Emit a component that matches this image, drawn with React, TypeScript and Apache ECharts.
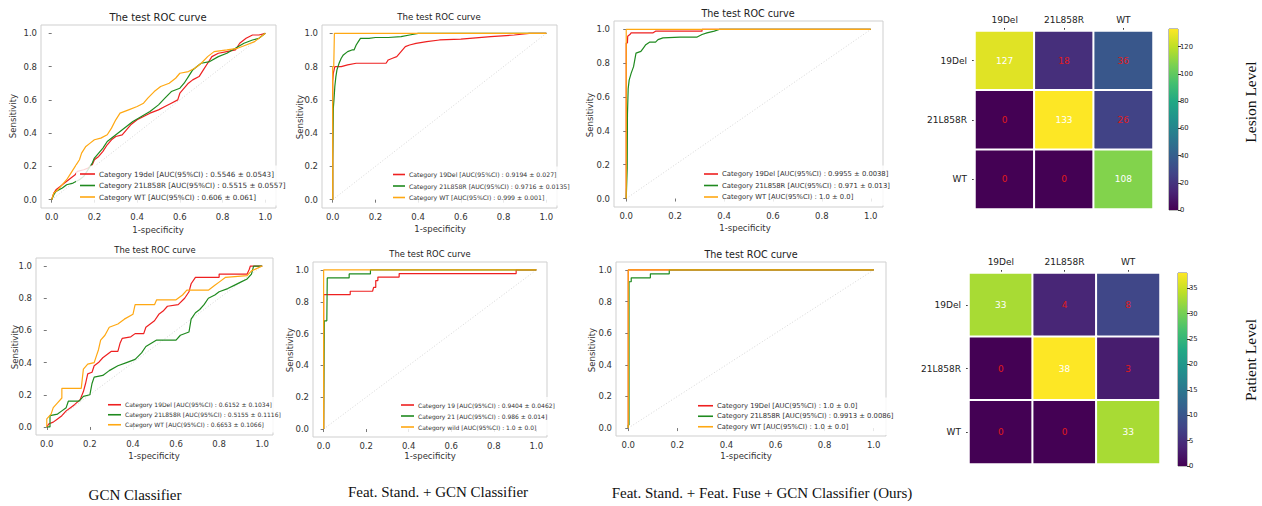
import React, { useEffect, useRef } from "react";
import * as echarts from "echarts";

// ---------- data ----------
const rocTicks = [0, 0.2, 0.4, 0.6, 0.8, 1.0];
const diagonal = [[0, 0], [1, 1]];
const rocTitle = "The test ROC curve";
const xName = "1-specificity";
const yName = "Sensitivity";

// Panel 1 (GCN Classifier, lesion level)
const p1Names = [
  "Category 19del [AUC(95%CI) : 0.5546 ± 0.0543]",
  "Category 21L858R [AUC(95%CI) : 0.5515 ± 0.0557]",
  "Category WT [AUC(95%CI) : 0.606 ± 0.061]",
];
const p1Red = [[0,0],[0.01,0.04],[0.02,0.06],[0.04,0.08],[0.06,0.1],[0.09,0.13],[0.11,0.15],[0.12,0.17],[0.15,0.18],[0.17,0.19],[0.19,0.21],[0.2,0.24],[0.22,0.26],[0.24,0.29],[0.26,0.33],[0.28,0.36],[0.3,0.38],[0.33,0.39],[0.35,0.42],[0.37,0.45],[0.4,0.48],[0.43,0.5],[0.46,0.52],[0.5,0.54],[0.53,0.56],[0.56,0.58],[0.59,0.6],[0.6,0.64],[0.62,0.67],[0.64,0.7],[0.66,0.72],[0.69,0.74],[0.71,0.78],[0.73,0.82],[0.75,0.86],[0.78,0.88],[0.82,0.89],[0.86,0.9],[0.88,0.94],[0.91,0.97],[0.94,0.99],[0.97,0.99],[1,1]];
const p1Green = [[0,0],[0.01,0.03],[0.02,0.05],[0.05,0.07],[0.07,0.09],[0.1,0.1],[0.13,0.12],[0.15,0.14],[0.17,0.18],[0.19,0.22],[0.2,0.25],[0.22,0.28],[0.24,0.31],[0.26,0.35],[0.29,0.38],[0.32,0.41],[0.35,0.44],[0.38,0.47],[0.42,0.5],[0.46,0.53],[0.5,0.57],[0.53,0.61],[0.56,0.65],[0.6,0.67],[0.62,0.7],[0.64,0.74],[0.66,0.78],[0.68,0.8],[0.7,0.82],[0.74,0.83],[0.78,0.86],[0.82,0.88],[0.86,0.91],[0.9,0.94],[0.94,0.96],[0.97,0.97],[1,1]];
const p1Orange = [[0,0],[0.01,0.04],[0.03,0.06],[0.05,0.09],[0.07,0.12],[0.09,0.16],[0.11,0.2],[0.13,0.24],[0.14,0.28],[0.16,0.32],[0.18,0.34],[0.2,0.36],[0.23,0.37],[0.26,0.39],[0.28,0.43],[0.3,0.48],[0.32,0.52],[0.36,0.54],[0.4,0.56],[0.43,0.58],[0.45,0.61],[0.48,0.65],[0.51,0.68],[0.55,0.7],[0.58,0.73],[0.6,0.76],[0.64,0.77],[0.67,0.79],[0.7,0.82],[0.73,0.86],[0.76,0.89],[0.82,0.9],[0.87,0.91],[0.91,0.93],[0.95,0.95],[1,1]];

// Panel 2 (Feat. Stand. + GCN, lesion level)
const p2Names = [
  "Category 19Del [AUC(95%CI) : 0.9194 ± 0.027]",
  "Category 21L858R [AUC(95%CI) : 0.9716 ± 0.0135]",
  "Category WT [AUC(95%CI) : 0.999 ± 0.001]",
];
const p2Red = [[0,0],[0,0.71],[0.003,0.76],[0.01,0.8],[0.04,0.8],[0.07,0.81],[0.11,0.82],[0.2,0.82],[0.25,0.82],[0.26,0.84],[0.28,0.85],[0.3,0.86],[0.32,0.89],[0.34,0.92],[0.36,0.93],[0.39,0.94],[0.44,0.95],[0.5,0.96],[0.6,0.965],[0.74,0.98],[0.85,0.99],[0.92,1],[1,1]];
const p2Green = [[0,0],[0,0.23],[0.003,0.55],[0.006,0.6],[0.01,0.68],[0.015,0.74],[0.02,0.78],[0.03,0.82],[0.04,0.85],[0.05,0.87],[0.07,0.89],[0.09,0.9],[0.1,0.9],[0.11,0.93],[0.12,0.95],[0.13,0.97],[0.17,0.97],[0.2,0.975],[0.26,0.975],[0.32,0.98],[0.36,0.99],[0.4,1],[1,1]];
const p2Orange = [[0,0],[0,0.8],[0.005,0.8],[0.008,1],[1,1]];

// Panel 3 (Ours, lesion level)
const p3Names = [
  "Category 19Del [AUC(95%CI) : 0.9955 ± 0.0038]",
  "Category 21L858R [AUC(95%CI) : 0.971 ± 0.013]",
  "Category WT [AUC(95%CI) : 1.0 ± 0.0]",
];
const p3Red = [[0,0],[0,0.92],[0.005,0.92],[0.006,0.96],[0.015,0.97],[0.02,0.98],[0.11,0.98],[0.12,0.99],[0.31,0.99],[0.31,1],[1,1]];
const p3Green = [[0,0],[0.004,0.18],[0.005,0.5],[0.008,0.65],[0.012,0.7],[0.02,0.74],[0.03,0.78],[0.035,0.82],[0.04,0.86],[0.06,0.87],[0.07,0.89],[0.08,0.91],[0.095,0.925],[0.12,0.925],[0.13,0.94],[0.15,0.95],[0.22,0.955],[0.29,0.955],[0.31,0.97],[0.33,0.98],[0.36,0.99],[0.38,1],[1,1]];
const p3Orange = [[0,0],[0,1],[1,1]];

// Panel 4 (GCN Classifier, patient level)
const p4Names = [
  "Category 19Del [AUC(95%CI) : 0.6152 ± 0.1034]",
  "Category 21L858R [AUC(95%CI) : 0.5155 ± 0.1116]",
  "Category WT [AUC(95%CI) : 0.6653 ± 0.1066]",
];
const p4Red = [[0,0],[0.01,0.02],[0.03,0.03],[0.05,0.05],[0.07,0.07],[0.09,0.1],[0.11,0.12],[0.13,0.14],[0.155,0.17],[0.17,0.22],[0.18,0.27],[0.19,0.33],[0.21,0.34],[0.22,0.38],[0.24,0.4],[0.26,0.43],[0.28,0.45],[0.3,0.47],[0.33,0.47],[0.34,0.52],[0.35,0.55],[0.39,0.56],[0.41,0.58],[0.45,0.58],[0.46,0.62],[0.48,0.64],[0.5,0.66],[0.52,0.7],[0.54,0.72],[0.56,0.75],[0.61,0.76],[0.64,0.8],[0.66,0.84],[0.67,0.89],[0.69,0.93],[0.8,0.93],[0.8,0.95],[0.93,0.95],[0.94,0.98],[0.945,1],[1,1]];
const p4Green = [[0,0],[0.015,0],[0.015,0.07],[0.05,0.08],[0.07,0.1],[0.09,0.12],[0.1,0.16],[0.15,0.16],[0.17,0.19],[0.2,0.2],[0.21,0.27],[0.22,0.31],[0.26,0.32],[0.29,0.35],[0.33,0.38],[0.37,0.4],[0.41,0.42],[0.44,0.46],[0.46,0.5],[0.51,0.54],[0.6,0.54],[0.62,0.57],[0.66,0.59],[0.67,0.67],[0.69,0.71],[0.71,0.73],[0.73,0.76],[0.75,0.8],[0.78,0.82],[0.8,0.84],[0.84,0.86],[0.87,0.88],[0.9,0.9],[0.93,0.92],[0.95,0.95],[0.96,1],[1,1]];
const p4Orange = [[0,0],[0,0.05],[0.02,0.08],[0.03,0.12],[0.05,0.15],[0.07,0.18],[0.07,0.24],[0.16,0.24],[0.165,0.3],[0.17,0.36],[0.19,0.39],[0.22,0.4],[0.23,0.44],[0.24,0.48],[0.25,0.54],[0.27,0.57],[0.29,0.62],[0.33,0.64],[0.36,0.67],[0.4,0.7],[0.41,0.76],[0.5,0.76],[0.51,0.79],[0.6,0.79],[0.63,0.82],[0.65,0.85],[0.75,0.85],[0.78,0.88],[0.8,0.9],[0.83,0.93],[0.93,0.94],[0.95,0.97],[1,1]];

// Panel 5 (Feat. Stand. + GCN, patient level)
const p5Names = [
  "Category 19 [AUC(95%CI) : 0.9404 ± 0.0462]",
  "Category 21 [AUC(95%CI) : 0.986 ± 0.014]",
  "Category wild [AUC(95%CI) : 1.0 ± 0.0]",
];
const p5Red = [[0,0],[0,0.845],[0.125,0.845],[0.125,0.866],[0.23,0.866],[0.235,0.89],[0.245,0.89],[0.245,0.933],[0.255,0.933],[0.255,0.955],[0.355,0.955],[0.355,0.977],[0.905,0.977],[0.905,1],[1,1]];
const p5Green = [[0,0],[0,0.02],[0.003,0.02],[0.003,0.68],[0.015,0.68],[0.017,0.95],[0.12,0.95],[0.12,0.975],[0.22,0.975],[0.22,1],[1,1]];
const p5Orange = [[0,0],[0,1],[1,1]];

// Panel 6 (Ours, patient level)
const p6Names = [
  "Category 19Del [AUC(95%CI) : 1.0 ± 0.0]",
  "Category 21L858R [AUC(95%CI) : 0.9913 ± 0.0086]",
  "Category WT [AUC(95%CI) : 1.0 ± 0.0]",
];
const p6Red = [[0,0],[0,1],[1,1]];
const p6Green = [[0,0],[0,0.02],[0.003,0.02],[0.003,0.925],[0.012,0.925],[0.012,0.95],[0.09,0.95],[0.09,0.975],[0.167,0.975],[0.167,1],[1,1]];
const p6Orange = [[0,0],[0,1],[1,1]];

// Confusion matrices
const classes = ["19Del", "21L858R", "WT"];
const lesionMatrix = [
  [127, 18, 36],
  [0, 133, 26],
  [0, 0, 108],
];
const patientMatrix = [
  [33, 4, 8],
  [0, 38, 3],
  [0, 0, 33],
];
const lesionTicks = [0, 20, 40, 60, 80, 100, 120];
const patientTicks = [0, 5, 10, 15, 20, 25, 30, 35];

const captions = [
  "GCN Classifier",
  "Feat. Stand. + GCN Classifier",
  "Feat. Stand. + Feat. Fuse + GCN Classifier (Ours)",
];
const levelLabels = ["Lesion Level", "Patient Level"];

// ---------- styling / layout ----------
const SANS = "DejaVu Sans";
const SERIF = "Liberation Serif";
const RED = "#ee2020";
const GREEN = "#1f8a1f";
const ORANGE = "#ffa812";
const VIRIDIS = ["#440154", "#482475", "#414487", "#355f8d", "#2a788e", "#21918c", "#22a884", "#44bf70", "#7ad151", "#bddf26", "#fde725"];
const LPAD = [4, 6, 4, 4];

const panels = [
  { names: p1Names, curves: [p1Red, p1Green, p1Orange], grid: { left: 41, top: 25, width: 235, height: 183 }, title: [158, 17, 10], yLab: [13, 116], xLab: [158, 230], legend: { left: 80, top: 169.5, size: 7.2, gap: 2.5, lh: 9, w: 15 } },
  { names: p2Names, curves: [p2Red, p2Green, p2Orange], grid: { left: 322, top: 25, width: 235, height: 183 }, title: [439, 17, 8.6], yLab: [300, 117], xLab: [440, 229], legend: { left: 393, top: 170.5, size: 6.2, gap: 3.5, lh: 8, w: 12 } },
  { names: p3Names, curves: [p3Red, p3Green, p3Orange], grid: { left: 614, top: 21, width: 269, height: 186 }, title: [748, 13, 9.6], yLab: [590, 115], xLab: [745, 228], legend: { left: 704, top: 169.5, size: 6.8, gap: 2.5, lh: 9, w: 14 } },
  { names: p4Names, curves: [p4Red, p4Green, p4Orange], grid: { left: 36, top: 258, width: 237, height: 177 }, title: [155, 250, 8.4], yLab: [15, 347], xLab: [154, 456], legend: { left: 108, top: 401, size: 6, gap: 2.5, lh: 7.5, w: 13 } },
  { names: p5Names, curves: [p5Red, p5Green, p5Orange], grid: { left: 313, top: 262, width: 234, height: 175 }, title: [430, 254, 8.4], yLab: [290, 350], xLab: [430, 456], legend: { left: 401, top: 401, size: 6, gap: 3, lh: 8, w: 13 } },
  { names: p6Names, curves: [p6Red, p6Green, p6Orange], grid: { left: 616, top: 262, width: 270, height: 174 }, title: [751, 254, 9.6], yLab: [592, 350], xLab: [746, 456], legend: { left: 698, top: 401.5, size: 6.8, gap: 2, lh: 8.5, w: 15 } },
];

const heatmaps = [
  { matrix: lesionMatrix, ticks: lesionTicks, grid: { left: 975, top: 31, width: 178, height: 178 }, bar: { left: 1169, top: 29, width: 9, height: 181 }, label: [1250, 102] },
  { matrix: patientMatrix, ticks: patientTicks, grid: { left: 969, top: 273, width: 191, height: 191 }, bar: { left: 1178, top: 273, width: 9, height: 193 }, label: [1250, 360] },
];

const captionPos = [[135, 495], [438, 492], [762, 493]];

function text(str: string, x: number, y: number, size: number, family: string, rot = 0, color = "#222") {
  return {
    type: "text",
    x,
    y,
    rotation: rot,
    silent: true,
    style: {
      text: str,
      fontSize: size,
      fontFamily: family,
      fill: color,
      textAlign: "center",
      textVerticalAlign: "middle",
      align: "center",
      verticalAlign: "middle",
    },
  };
}

function buildOption() {
  const grid: any[] = [];
  const xAxis: any[] = [];
  const yAxis: any[] = [];
  const series: any[] = [];
  const legend: any[] = [];
  const graphic: any[] = [];
  const visualMap: any[] = [];

  panels.forEach((p, i) => {
    grid.push({ ...p.grid, show: true, borderColor: "#cfcfcf", borderWidth: 1, backgroundColor: "transparent" });
    const axisCommon = {
      type: "value",
      gridIndex: i,
      min: -0.05,
      max: 1.05,
      axisLine: { show: false },
      splitLine: { show: false },
      axisTick: { show: true, length: 3, lineStyle: { color: "#555", width: 0.8 }, customValues: rocTicks },
      axisLabel: { customValues: rocTicks, formatter: (v: number) => v.toFixed(1), fontSize: 8.5, color: "#333", margin: 4, fontFamily: SANS },
    };
    xAxis.push({ ...axisCommon });
    yAxis.push({ ...axisCommon });
    series.push({
      type: "line",
      xAxisIndex: i,
      yAxisIndex: i,
      data: diagonal,
      symbol: "none",
      silent: true,
      lineStyle: { color: "#c4c4c4", width: 0.7, type: [1, 2] },
      z: 1,
    });
    const colors = [RED, GREEN, ORANGE];
    p.curves.forEach((c, k) => {
      series.push({
        type: "line",
        name: p.names[k],
        xAxisIndex: i,
        yAxisIndex: i,
        data: c,
        symbol: "none",
        showSymbol: false,
        silent: true,
        color: colors[k],
        lineStyle: { color: colors[k], width: 1.2 },
        itemStyle: { color: colors[k] },
        z: 2 + k,
      });
    });
    legend.push({
      orient: "vertical",
      left: p.legend.left - LPAD[3],
      top: p.legend.top - LPAD[0],
      padding: LPAD,
      backgroundColor: "rgba(255,255,255,0.82)",
      z: 10,
      itemGap: p.legend.gap,
      itemWidth: p.legend.w,
      itemHeight: 1.6,
      icon: "rect",
      selectedMode: false,
      data: p.names,
      textStyle: { fontSize: p.legend.size, fontFamily: SANS, color: "#333", lineHeight: p.legend.lh, padding: [0, 0, 0, -1] },
    });
    graphic.push(text(rocTitle, p.title[0], p.title[1], p.title[2], SANS));
    graphic.push(text(yName, p.yLab[0], p.yLab[1], 8.5, SANS, Math.PI / 2, "#333"));
    graphic.push(text(xName, p.xLab[0], p.xLab[1], 8.5, SANS, 0, "#333"));
  });

  heatmaps.forEach((h, j) => {
    const gi = grid.length;
    grid.push({ ...h.grid, show: false });
    xAxis.push({
      type: "category",
      gridIndex: gi,
      data: classes,
      position: "top",
      axisLine: { show: false },
      axisTick: { show: true, length: 3, alignWithLabel: true, lineStyle: { color: "#444" } },
      axisLabel: { fontSize: 9, color: "#222", margin: 7, fontFamily: SANS },
      splitLine: { show: false },
    });
    yAxis.push({
      type: "category",
      gridIndex: gi,
      data: classes,
      inverse: true,
      axisLine: { show: false },
      axisTick: { show: true, length: 3, alignWithLabel: true, lineStyle: { color: "#444" } },
      axisLabel: { fontSize: 9, color: "#222", margin: 8, fontFamily: SANS },
      splitLine: { show: false },
    });
    const flat = h.matrix.flat();
    const vmax = Math.max(...flat);
    const data: any[] = [];
    h.matrix.forEach((row, r) =>
      row.forEach((v, c) => {
        data.push({ value: [c, r, v], label: { color: v > vmax / 2 ? "#ffffff" : "#e01b1b" } });
      })
    );
    const si = series.length;
    series.push({
      type: "heatmap",
      xAxisIndex: gi,
      yAxisIndex: gi,
      data,
      silent: true,
      itemStyle: { borderColor: "#ffffff", borderWidth: 2 },
      label: { show: true, fontSize: 9, fontFamily: SANS },
    });
    visualMap.push({ type: "continuous", show: false, min: 0, max: vmax, seriesIndex: si, dimension: 2, inRange: { color: VIRIDIS } });

    // colorbar
    const bi = grid.length;
    grid.push({ ...h.bar, show: true, borderColor: "#555", borderWidth: 0.8 });
    xAxis.push({ type: "category", gridIndex: bi, data: [""], show: false });
    yAxis.push({
      type: "value",
      gridIndex: bi,
      min: 0,
      max: vmax,
      interval: h.ticks[1] - h.ticks[0],
      position: "right",
      axisLine: { show: false },
      splitLine: { show: false },
      axisTick: { show: true, length: 3, lineStyle: { color: "#333" } },
      axisLabel: { fontSize: 6.8, color: "#222", margin: 2, fontFamily: SANS, showMaxLabel: false },
    });
    const stops = VIRIDIS.slice().reverse().map((c, k, arr) => ({ offset: k / (arr.length - 1), color: c }));
    series.push({
      type: "bar",
      xAxisIndex: bi,
      yAxisIndex: bi,
      data: [vmax],
      barWidth: "100%",
      silent: true,
      itemStyle: { color: new echarts.graphic.LinearGradient(0, 0, 0, 1, stops) },
    });
    graphic.push(text(levelLabels[j], h.label[0], h.label[1], 15.5, SERIF, Math.PI / 2, "#111"));
  });

  captions.forEach((c, k) => {
    graphic.push(text(c, captionPos[k][0], captionPos[k][1], 15, SERIF, 0, "#111"));
  });

  return {
    animation: false,
    backgroundColor: "#ffffff",
    grid,
    xAxis,
    yAxis,
    series,
    legend,
    visualMap,
    graphic: { elements: graphic },
  };
}

export default function App() {
  const ref = useRef<HTMLDivElement>(null);
  useEffect(() => {
    document.body.style.margin = "0";
    const chart = echarts.init(ref.current!, null, { renderer: "svg" });
    chart.setOption(buildOption() as any);
    return () => chart.dispose();
  }, []);
  return <div ref={ref} style={{ width: 1262, height: 506 }} />;
}
